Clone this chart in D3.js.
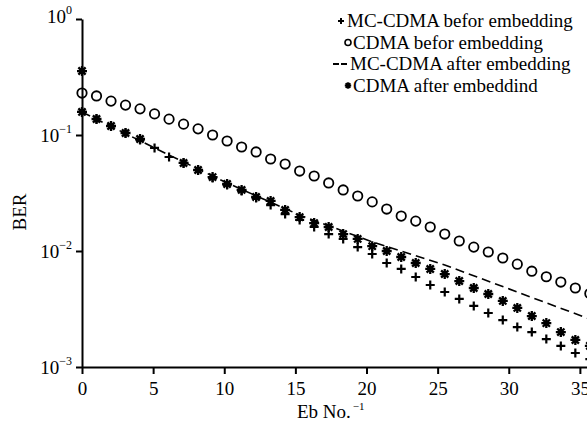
<!DOCTYPE html>
<html>
<head>
<meta charset="utf-8">
<script src="https://cdn.jsdelivr.net/npm/d3@7"></script>
<style>
  html, body { margin: 0; padding: 0; background: #fff; }
  svg { display: block; font-family: "Liberation Serif", "Times New Roman", serif; }
</style>
</head>
<body>
<svg id="chart" width="587" height="426"></svg>
<script>
// positions of the simulated points along Eb/No
const xs = [0, 1.02, 2.04, 3.06, 4.08, 5.1, 6.12, 7.14, 8.16, 9.18, 10.2, 11.22, 12.24, 13.26, 14.28, 15.3,
    16.32, 17.34, 18.36, 19.38, 20.4, 21.42, 22.44, 23.46, 24.48, 25.5, 26.52, 27.54, 28.56, 29.58, 30.6,
    31.62, 32.64, 33.66, 34.68, 35.7];

// MC-CDMA befor embedding (+)
const mcBefore = [0.158, 0.1374, 0.1196, 0.104, 0.0906, 0.0773, 0.0646, 0.0574, 0.0499, 0.0426, 0.0371,
    0.0329, 0.0286, 0.0249, 0.0208, 0.0185, 0.0161, 0.014, 0.0127, 0.0108, 0.00942, 0.00788, 0.007,
    0.00597, 0.00509, 0.00443, 0.00386, 0.00336, 0.00292, 0.00254, 0.00221, 0.002, 0.00174, 0.00152,
    0.00132, 0.00117];

// CDMA befor embedding (o)
const cdmaBefore = [0.23, 0.217, 0.196, 0.181, 0.168, 0.152, 0.137, 0.124, 0.113, 0.1, 0.0888, 0.0788,
    0.0714, 0.0621, 0.0562, 0.0489, 0.0443, 0.0386, 0.0336, 0.0298, 0.0265, 0.023, 0.02, 0.0181, 0.0161,
    0.014, 0.0122, 0.0108, 0.0098, 0.0087, 0.0077, 0.0067, 0.006, 0.0054, 0.0048, 0.0043];

// MC-CDMA after embedding (dashed line)
const dashX = [0, 5.1, 10.2, 15.3, 20.4, 25.5, 30.6, 35.7];
const mcAfter = [0.158, 0.0773, 0.0386, 0.0204, 0.012, 0.00757, 0.00443, 0.00259];

// CDMA after embeddind (*), two points missing at 5 and 6
const cdmaAfter = [0.158, 0.1374, 0.1196, 0.104, 0.0924, null, null, 0.0574, 0.0499, 0.0434, 0.0378,
    0.0336, 0.0292, 0.027, 0.0226, 0.0196, 0.0174, 0.0161, 0.014, 0.0127, 0.011, 0.01, 0.00888, 0.00788,
    0.007, 0.00633, 0.00551, 0.0048, 0.00426, 0.00371, 0.00323, 0.00275, 0.00239, 0.002, 0.00171, 0.00152];
const cdmaAfterExtraX = [0];
const cdmaAfterExtra = [0.356];

const xTicks = [0, 5, 10, 15, 20, 25, 30, 35];
const yTicks = [1, 0.1, 0.01, 0.001];
const yExp = ["0", "\u22121", "\u22122", "\u22123"];

const legendLabels = ["MC-CDMA befor embedding", "CDMA befor embedding", "MC-CDMA after embedding", "CDMA after embeddind"];

const FONT = "Liberation Serif, Times New Roman, serif";

const svg = d3.select("#chart");
const x = d3.scaleLinear().domain([0, 35.5]).range([82, 587]);
const y = d3.scaleLog().domain([0.001, 1]).range([367, 19]);

// marker shapes
const plusPath = r => `M${-r},0H${r}M0,${-r}V${r}`;
const starPath = r => {
    const d = r * 0.72;
    return `M${-r},0H${r}M0,${-r}V${r}M${-d},${-d}L${d},${d}M${-d},${d}L${d},${-d}`;
};

// axes
const xAxis = svg.append("g")
    .attr("transform", `translate(0,${y(0.001)})`)
    .call(d3.axisBottom(x).tickValues(xTicks).tickSize(7).tickPadding(8).tickSizeOuter(0));
xAxis.attr("font-family", FONT);
xAxis.select(".domain").attr("stroke-width", 2);
xAxis.selectAll(".tick line").attr("stroke-width", 2);
xAxis.selectAll(".tick text").attr("font-size", 19);

const yAxis = svg.append("g")
    .attr("transform", `translate(${x(0)},0)`)
    .call(d3.axisLeft(y).tickValues(yTicks).tickFormat("").tickSize(6).tickSizeOuter(0));
yAxis.attr("font-family", FONT);
yAxis.select(".domain").attr("stroke-width", 2);
yAxis.selectAll(".tick line").attr("stroke-width", 2);
yAxis.selectAll(".tick").each(function(d, i) {
    const t = d3.select(this).append("text")
        .attr("x", -10).attr("dy", i === 0 ? "0.2em" : "0.32em")
        .attr("text-anchor", "end").attr("fill", "#000")
        .attr("font-size", 19);
    t.append("tspan").text("10");
    t.append("tspan").attr("font-size", 12).attr("dy", "-0.75em").text(yExp[i]);
});

// axis titles
svg.append("text")
    .attr("transform", "translate(26,212) rotate(-90)")
    .attr("text-anchor", "middle").attr("font-size", 19)
    .attr("font-family", FONT)
    .text("BER");

const xl = svg.append("text")
    .attr("x", 297).attr("y", 418).attr("font-size", 19).attr("font-family", FONT);
xl.append("tspan").text("Eb No.");
xl.append("tspan").attr("font-size", 11).attr("dy", "-0.72em").attr("dx", "2").text("\u22121");

// MC-CDMA after embedding: dashed line
const line = d3.line().x((d, i) => x(dashX[i])).y(d => y(d));
svg.append("path")
    .datum(mcAfter)
    .attr("d", line)
    .attr("fill", "none").attr("stroke", "#000")
    .attr("stroke-width", 1.6).attr("stroke-dasharray", "9,5");

// CDMA befor embedding: circles
svg.append("g").selectAll("circle")
    .data(cdmaBefore)
    .join("circle")
    .attr("cx", (d, i) => x(xs[i])).attr("cy", d => y(d))
    .attr("r", 4.7).attr("fill", "none").attr("stroke", "#000").attr("stroke-width", 1.8);

// MC-CDMA befor embedding: plus
svg.append("g").selectAll("path")
    .data(mcBefore)
    .join("path")
    .attr("transform", (d, i) => `translate(${x(xs[i])},${y(d)})`)
    .attr("d", plusPath(4.5))
    .attr("stroke", "#000").attr("stroke-width", 2.2).attr("fill", "none");

// CDMA after embeddind: stars
const starPts = cdmaAfter.map((d, i) => [xs[i], d]).filter(p => p[1] !== null)
    .concat(cdmaAfterExtra.map((d, i) => [cdmaAfterExtraX[i], d]));
svg.append("g").selectAll("path")
    .data(starPts)
    .join("path")
    .attr("transform", d => `translate(${x(d[0])},${y(d[1])})`)
    .attr("d", starPath(5))
    .attr("stroke", "#000").attr("stroke-width", 2.3).attr("fill", "none");

// legend
const legend = svg.append("g").attr("font-family", FONT);
const rowY = [21, 42.5, 64, 85.5];
legendLabels.forEach((label, i) => {
    const g = legend.append("g").attr("transform", `translate(0,${rowY[i]})`);
    if (i === 0) g.append("path").attr("transform", "translate(341,0)").attr("d", plusPath(3))
        .attr("stroke", "#000").attr("stroke-width", 2);
    if (i === 1) g.append("circle").attr("cx", 348).attr("r", 3)
        .attr("fill", "none").attr("stroke", "#000").attr("stroke-width", 1.6);
    if (i === 2) g.append("line").attr("x1", 333).attr("x2", 347)
        .attr("stroke", "#000").attr("stroke-width", 1.8).attr("stroke-dasharray", "6,2");
    if (i === 3) g.append("path").attr("transform", "translate(348,0)").attr("d", starPath(3.2))
        .attr("stroke", "#000").attr("stroke-width", 1.8);
    g.append("text")
        .attr("x", i === 0 ? 347 : i === 2 ? 350 : 353).attr("dy", "0.33em")
        .attr("font-size", 19).text(label);
});
</script>
</body>
</html>
